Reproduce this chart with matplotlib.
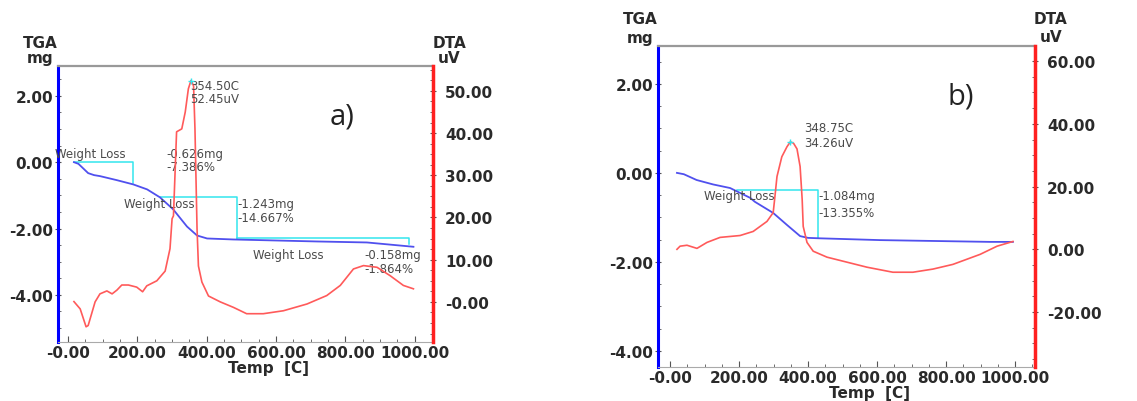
import matplotlib
matplotlib.use("Agg")
import matplotlib.pyplot as plt
from matplotlib.ticker import MultipleLocator, FuncFormatter

# ---------------- data: panel a ----------------
a_tga_temp = [17, 30, 45, 58, 75, 92, 140, 188, 228, 265, 303, 343, 372, 401, 477, 718, 862, 996]
a_tga_mg = [0.0, -0.05, -0.2, -0.33, -0.39, -0.42, -0.54, -0.67, -0.82, -1.06, -1.42, -1.94, -2.21,
            -2.30, -2.33, -2.39, -2.42, -2.55]

a_dta_temp = [17, 35, 52, 58, 78, 92, 112, 127, 141, 155, 174, 198, 215, 227, 256, 280, 294, 300,
              304, 313, 328, 338, 347, 354.5, 362, 366, 372, 376, 386, 405, 439, 477, 515, 563,
              621, 689, 746, 785, 823, 852, 891, 929, 967, 996]
a_dta_uv = [0.07, -1.66, -5.9, -5.6, 0.0, 1.9, 2.6, 1.9, 2.8, 4.0, 4.0, 3.5, 2.4, 3.8, 5.0, 7.3, 12.6, 19.7,
            20.4, 40.3, 41.0, 45.0, 50.5, 52.45, 51.2, 41.0, 17.3, 8.5, 4.7, 1.4, 0.0, -1.3, -2.8, -2.8,
            -2.1, -0.5, 1.5, 3.9, 7.8, 8.6, 8.2, 6.2, 3.9, 3.1]

# weight-loss steps
a_step_start = [17, 265, 488]
a_step_end = [188, 488, 984]
a_step_level = [0.0, -1.06, -2.30]
a_step_loss = [-0.626, -1.243, -0.158]
a_step_pct = [-7.386, -14.667, -1.864]
a_peak_temp = 354.50
a_peak_uv = 52.45

# ---------------- data: panel b ----------------
b_tga_temp = [20, 40, 77, 125, 174, 232, 246, 299, 339, 377, 400, 435, 609, 928, 994]
b_tga_mg = [0.0, -0.03, -0.16, -0.26, -0.34, -0.56, -0.65, -0.90, -1.17, -1.42, -1.46, -1.47, -1.51,
            -1.55, -1.55]

b_dta_temp = [20, 29, 49, 78, 107, 145, 203, 241, 281, 299, 304, 310, 324, 339, 348.75, 358, 368, 377, 383,
              386, 397, 415, 455, 513, 571, 646, 704, 762, 820, 899, 948, 994]
b_dta_uv = [0.0, 1.0, 1.3, 0.3, 2.2, 3.8, 4.4, 5.7, 8.9, 11.7, 16.8, 23.2, 29.5, 32.7, 34.26, 33.8, 32.0,
            26.4, 15.9, 7.3, 2.2, -0.6, -2.5, -4.1, -5.7, -7.3, -7.3, -6.3, -4.8, -1.6, 1.0, 2.5]

b_step_start = [194]
b_step_end = [429]
b_step_level = [-0.38]
b_step_loss = [-1.084]
b_step_pct = [-13.355]
b_peak_temp = 348.75
b_peak_uv = 34.26

x_ticks = [0, 200, 400, 600, 800, 1000]
a_tga_ticks = [-4, -2, 0, 2]
a_dta_ticks = [0, 10, 20, 30, 40, 50]
b_tga_ticks = [-4, -2, 0, 2]
b_dta_ticks = [-20, 0, 20, 40, 60]

BLUE = "#5050ee"
RED = "#ff5a5a"
CYAN = "#33e6ee"
TXT = "#4a4a4a"
LAB = "#2a2a2a"

fig = plt.figure(figsize=(11.37, 4.02), dpi=100)


def fmt_zero_neg(v, pos):
    if abs(v) < 1e-9:
        return "-0.00"
    return "%.2f" % v


def fmt_plain(v, pos):
    if abs(v) < 1e-9:
        return "0.00"
    return "%.2f" % v


def panel(rect, xlim, tga_lim, dta_lim, tga_ticks, dta_ticks, dta_minor, dta_fmt,
          tga_t, tga_v, dta_t, dta_v, st_s, st_e, st_lvl, st_loss, st_pct,
          pk_t, pk_v, label, label_xy, hdr_y, temp_y, wl_offsets, loss_offsets, peak_off):
    ax = fig.add_axes(rect)
    ax2 = ax.twinx()
    ax.set_xlim(*xlim)
    ax.set_ylim(*tga_lim)
    ax2.set_ylim(*dta_lim)

    ax.plot(tga_t, tga_v, color=BLUE, lw=1.3, zorder=3)
    ax2.plot(dta_t, dta_v, color=RED, lw=1.2, zorder=3)

    for s, e, lvl, loss, pct, wo, lo in zip(st_s, st_e, st_lvl, st_loss, st_pct, wl_offsets, loss_offsets):
        ax.plot([s, e, e], [lvl, lvl, lvl + loss], color=CYAN, lw=1.1, zorder=2)
        ax.text(wo[0], wo[1], "Weight Loss", fontsize=8.5, color=TXT, va="center", ha="left")
        ax.text(lo[0], lo[1], "%.3fmg" % loss, fontsize=8.5, color=TXT, va="center", ha="left")
        ax.text(lo[0], lo[1] - lo[2], "%.3f%%" % pct, fontsize=8.5, color=TXT, va="center", ha="left")

    ax2.plot([pk_t], [pk_v], marker="+", color=CYAN, ms=5, mew=1, zorder=4)
    ax2.text(pk_t + peak_off[0], pk_v + peak_off[1], "%.2fC" % pk_t, fontsize=8.5, color=TXT,
             va="center", ha="left")
    ax2.text(pk_t + peak_off[0], pk_v + peak_off[1] - peak_off[2], "%.2fuV" % pk_v, fontsize=8.5,
             color=TXT, va="center", ha="left")

    for a in (ax, ax2):
        for side in ("left", "right", "top", "bottom"):
            a.spines[side].set_visible(False)
    ax.spines["left"].set_visible(True)
    ax.spines["left"].set_color("#0000ff")
    ax.spines["left"].set_linewidth(2.2)
    ax.spines["top"].set_visible(True)
    ax.spines["top"].set_color("#999999")
    ax.spines["top"].set_linewidth(1.6)
    ax.spines["bottom"].set_visible(True)
    ax.spines["bottom"].set_color("#aaaaaa")
    ax.spines["bottom"].set_linewidth(0.8)
    ax2.spines["right"].set_visible(True)
    ax2.spines["right"].set_color("#ff2020")
    ax2.spines["right"].set_linewidth(2.5)

    ax.set_xticks(x_ticks)
    ax.xaxis.set_minor_locator(MultipleLocator(50))
    ax.xaxis.set_major_formatter(FuncFormatter(fmt_zero_neg))
    ax.set_yticks(tga_ticks)
    ax.yaxis.set_minor_locator(MultipleLocator(0.5))
    ax.yaxis.set_major_formatter(FuncFormatter(fmt_plain))
    ax2.set_yticks(dta_ticks)
    ax2.yaxis.set_minor_locator(MultipleLocator(dta_minor))
    ax2.yaxis.set_major_formatter(FuncFormatter(dta_fmt))

    lab_font = dict(family="DejaVu Sans", weight="bold", size=11)
    for t in ax.get_xticklabels() + ax.get_yticklabels() + ax2.get_yticklabels():
        t.set_fontfamily("DejaVu Sans")
        t.set_fontweight("bold")
        t.set_fontsize(11)
        t.set_color(LAB)
    ax.tick_params(axis="x", which="major", direction="in", length=4, color="#555555", pad=2)
    ax.tick_params(axis="x", which="minor", direction="in", length=2.5, color="#555555")
    ax.tick_params(axis="y", which="major", direction="inout", length=5, color="#555555", pad=1)
    ax.tick_params(axis="y", which="minor", direction="in", length=2.5, color="#555555")
    ax2.tick_params(axis="y", which="major", direction="inout", length=5, color="#555555", pad=6)
    ax2.tick_params(axis="y", which="minor", direction="in", length=2.5, color="#555555")

    x0, y0, w, h = rect
    fig.text(x0 - 0.016, hdr_y[0], "TGA", ha="center", va="center", color=LAB, **lab_font)
    fig.text(x0 - 0.016, hdr_y[1], "mg", ha="center", va="center", color=LAB, **lab_font)
    fig.text(x0 + w + 0.014, hdr_y[0], "DTA", ha="center", va="center", color=LAB, **lab_font)
    fig.text(x0 + w + 0.014, hdr_y[1], "uV", ha="center", va="center", color=LAB, **lab_font)
    fig.text(x0 + w * 0.56, temp_y, "Temp  [C]", ha="center", va="center", color=LAB, **lab_font)

    fig.text(label_xy[0], label_xy[1], label, ha="center", va="center", fontsize=21,
             family="Open Sans", color="#222222")
    return ax, ax2


panel([0.051, 0.1468, 0.330, 0.6866], (-29, 1053), (-5.42, 2.9), (-9.5, 55.9),
      a_tga_ticks, a_dta_ticks, 2.5, fmt_zero_neg,
      a_tga_temp, a_tga_mg, a_dta_temp, a_dta_uv,
      a_step_start, a_step_end, a_step_level, a_step_loss, a_step_pct,
      a_peak_temp, a_peak_uv, "a)", (0.301, 1 - 117 / 402), (1 - 43 / 402, 1 - 59 / 402), 1 - 369 / 402,
      [(-37, 0.27), (162, -1.24), (532, -2.79)],
      [(284, 0.27, 0.4), (488, -1.24, 0.42), (855, -2.79, 0.4)],
      (-2, -1.2, 3.1))

panel([0.5787, 0.0846, 0.3316, 0.7985], (-35, 1058), (-4.36, 2.85), (-37.5, 64.8),
      b_tga_ticks, b_dta_ticks, 5, fmt_plain,
      b_tga_temp, b_tga_mg, b_dta_temp, b_dta_uv,
      b_step_start, b_step_end, b_step_level, b_step_loss, b_step_pct,
      b_peak_temp, b_peak_uv, "b)", (0.845, 1 - 97 / 402), (1 - 20 / 402, 1 - 38 / 402), 1 - 394 / 402,
      [(99, -0.5)],
      [(429, -0.5, 0.38)],
      (40, 4.5, 4.8))

fig.savefig("out.png", dpi=100)
